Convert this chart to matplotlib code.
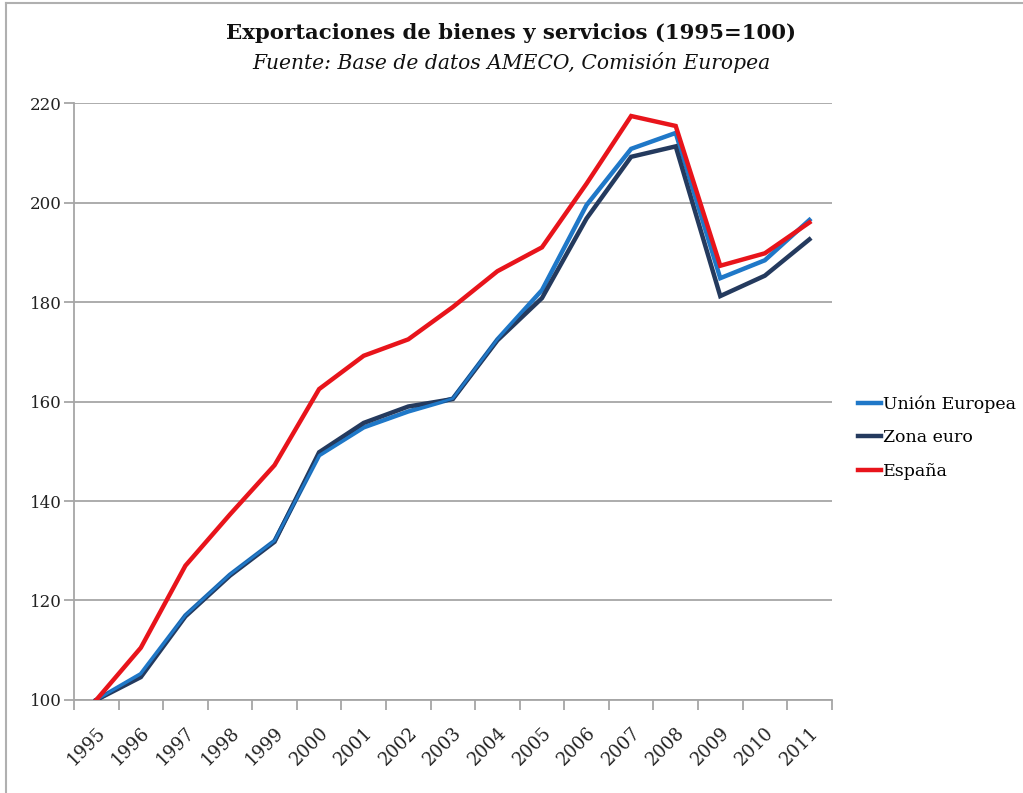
import matplotlib
matplotlib.use("Agg")
import matplotlib.pyplot as plt
from matplotlib.lines import Line2D

years = [str(y) for y in range(1995, 2012)]
union_europea = [100, 105.2, 117.0, 125.2, 132.0, 149.2, 154.8, 158.0, 160.6, 172.5,
                 182.4, 199.5, 210.8, 214.0, 184.8, 188.4, 196.5]
zona_euro = [100, 104.6, 116.8, 125.0, 131.8, 149.8, 155.7, 159.0, 160.5, 172.3,
             180.8, 196.8, 209.2, 211.3, 181.2, 185.3, 192.6]
espana = [100, 110.5, 127.0, 137.3, 147.2, 162.5, 169.2, 172.5, 179.0, 186.2,
          191.0, 203.8, 217.4, 215.4, 187.3, 189.8, 196.0]
yticks = [100, 120, 140, 160, 180, 200, 220]

title = "Exportaciones de bienes y servicios (1995=100)"
subtitle = "Fuente: Base de datos AMECO, Comisión Europea"

FONT = "DejaVu Serif"
plt.rcParams["font.family"] = FONT

fig = plt.figure(figsize=(10.23, 7.93), dpi=100)
ax = fig.add_axes([0.0723, 0.1173, 0.7407, 0.7527])

x = list(range(len(years)))
c_ue, c_ze, c_es = "#1f78c8", "#243a5e", "#e8141b"
lw = 3.2
ax.plot(x, union_europea, color=c_ue, lw=lw, solid_joinstyle="miter", zorder=3, label="Unión Europea")
ax.plot(x, zona_euro, color=c_ze, lw=lw, solid_joinstyle="miter", zorder=4, label="Zona euro")
ax.plot(x, espana, color=c_es, lw=lw, solid_joinstyle="miter", zorder=5, label="España")
ax.plot(x, union_europea, color=c_ue, lw=lw * 0.6, zorder=4.5)

ax.set_xlim(-0.5, len(years) - 0.5)
ax.set_ylim(100, 220)
ax.set_yticks(yticks)
ax.set_yticklabels([str(v) for v in yticks], fontsize=12, color="#222222")
ax.yaxis.grid(True, color="#a6a6a6", lw=1.3)
ax.set_axisbelow(True)

ax.set_xticks([i - 0.5 for i in range(len(years) + 1)])
ax.set_xticklabels([])
ax.set_xticks(x, minor=True)
ax.set_xticklabels(years, minor=True, rotation=45, ha="right", va="top",
                   rotation_mode="anchor", fontsize=13, color="#222222")
ax.tick_params(axis="x", which="major", length=7, color="#a6a6a6", width=1.3, direction="out")
ax.tick_params(axis="x", which="minor", length=0, pad=17)
ax.tick_params(axis="y", length=7, color="#a6a6a6", width=1.3, pad=2)

for s in ["top", "right"]:
    ax.spines[s].set_visible(False)
for s in ["left", "bottom"]:
    ax.spines[s].set_color("#a6a6a6")
    ax.spines[s].set_linewidth(1.3)

fig.text(0.5, 0.958, title, ha="center", va="center", fontsize=15.3, fontweight="bold", color="#111111")
fig.text(0.5, 0.921, subtitle, ha="center", va="center", fontsize=14.6, style="italic", color="#111111")

handles = [Line2D([], [], color=c_ue, lw=lw), Line2D([], [], color=c_ze, lw=lw), Line2D([], [], color=c_es, lw=lw)]
fig.legend(handles, ["Unión Europea", "Zona euro", "España"], loc="center left",
           bbox_to_anchor=(0.823, 0.448), frameon=False, fontsize=12.5,
           handlelength=1.35, handletextpad=0.1, labelspacing=0.95)

# screenshot border
fig.add_artist(Line2D([0.006, 1.0], [0.996, 0.996], transform=fig.transFigure, color="#b0b0b0", lw=1.5))
fig.add_artist(Line2D([0.006, 0.006], [0.0, 0.996], transform=fig.transFigure, color="#b0b0b0", lw=1.5))

fig.savefig("out.png", dpi=100, facecolor="white")
